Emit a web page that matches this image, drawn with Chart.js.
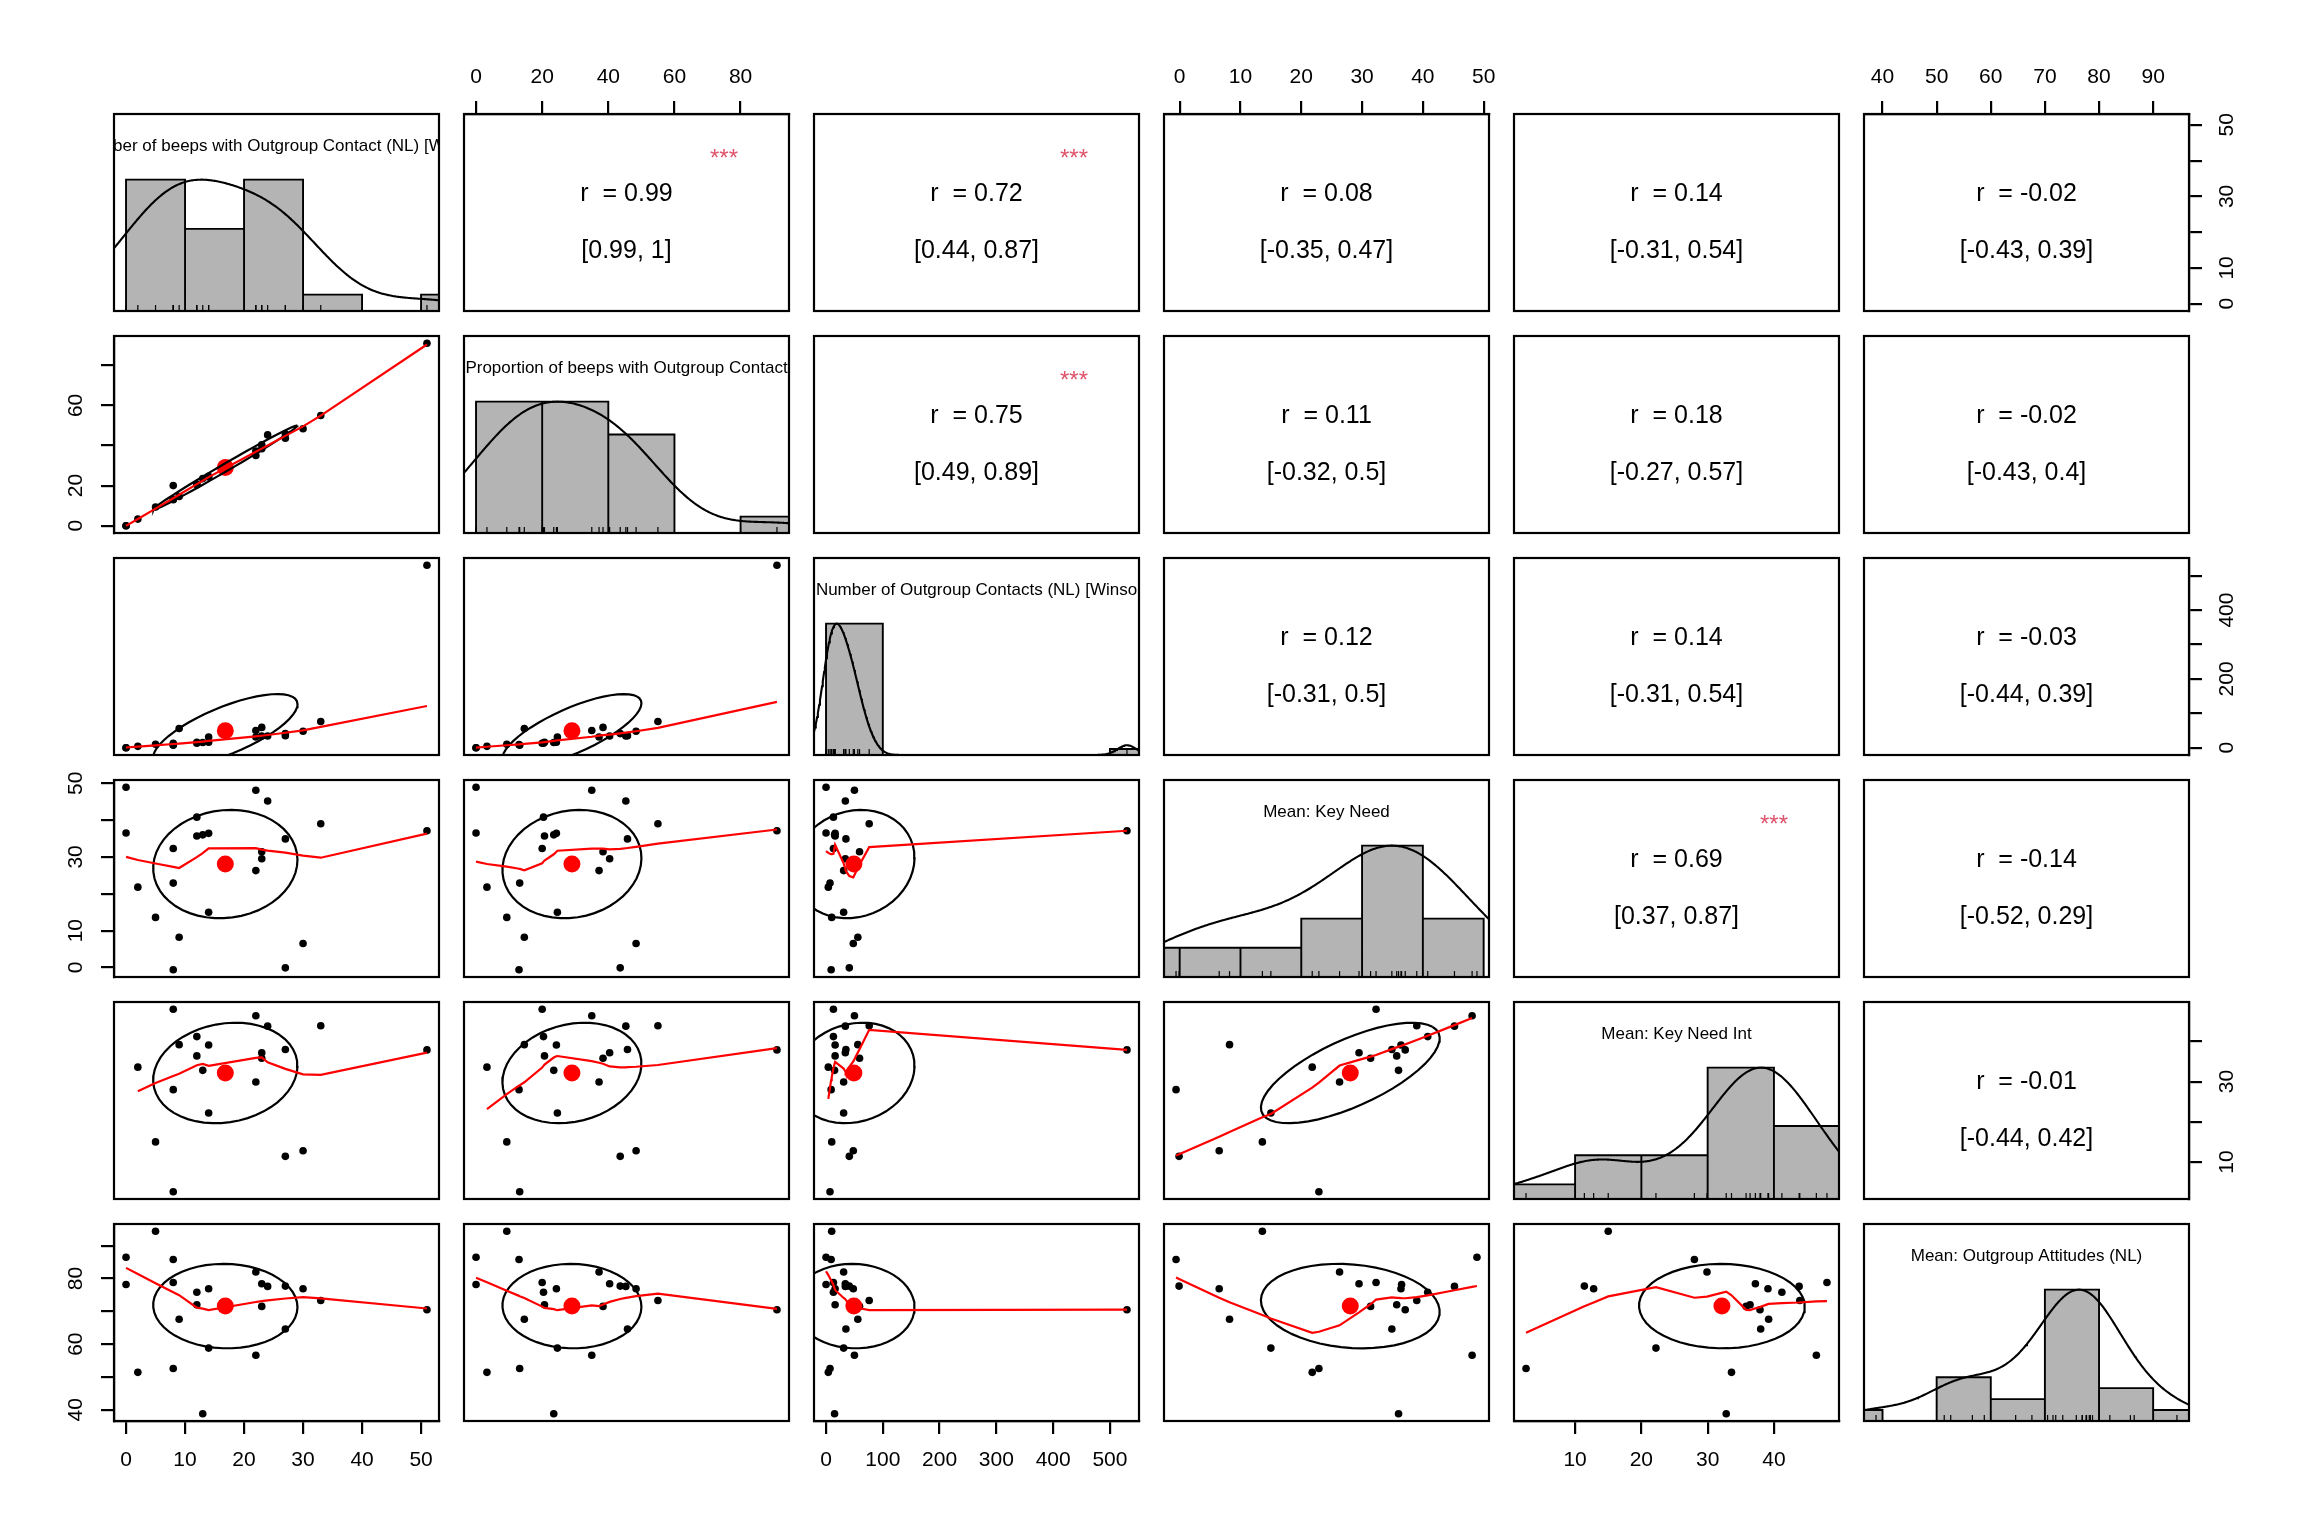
<!DOCTYPE html>
<html><head><meta charset="utf-8">
<script src="https://cdn.jsdelivr.net/npm/chart.js@4.4.1/dist/chart.umd.min.js"></script>
<style>
html,body{margin:0;padding:0;background:#fff;width:2304px;height:1536px;overflow:hidden}
#wrap{position:relative;width:2304px;height:1536px;background:#fff}
canvas{position:absolute}
</style></head><body><div id="wrap"></div>
<script>
// ---------------- data (23 participants) ----------------
const diagLabels = ["Number of beeps with Outgroup Contact (NL) [Winso", "Proportion of beeps with Outgroup Contact",
  "Number of Outgroup Contacts (NL) [Winso", "Mean: Key Need", "Mean: Key Need Int", "Mean: Outgroup Attitudes (NL)"];
const beepsContact   = [0,0,2,5,8,8,8,9,12,12,13,14,14,22,22,23,23,24,27,27,30,33,51];
const propContact    = [0,0,3.3,9.3,13.0,13.2,20.0,14.6,20.4,20.7,23.5,24.3,24.6,37.2,35.0,40.4,38.4,45.3,43.6,45.8,48.4,55.0,91.0];
const nContacts      = [0,0,4,10,9,7,13,56,13,16,15,16,31,31,50,34,59,34,41,35,48,76,530];
const keyNeed        = [48.9,36.5,21.8,13.6,-0.6,22.9,32.3,8.2,40.8,35.7,36.0,36.4,15.0,26.3,48.1,29.5,31.4,45.2,-0.1,34.9,6.5,39.0,37.1];
const keyNeedInt     = [null,null,33.6,15.0,28.0,2.6,48.0,39.2,41.2,36.4,32.8,39.1,22.2,29.9,46.4,37.2,35.8,43.8,11.4,38.0,12.8,43.9,37.9];
const attitudes      = [86.5,78.2,51.4,94.4,85.8,52.6,78.8,67.6,75.8,72.0,38.8,76.9,58.8,82.0,56.6,78.4,71.5,77.6,77.7,64.6,76.9,73.3,70.5];

// correlation texts of the upper panels (row-major over i<j)
const corrR     = ['0.99','0.72','0.08','0.14','-0.02','0.75','0.11','0.18','-0.02','0.12','0.14','-0.03','0.69','-0.14','-0.01'];
const corrCI    = ['[0.99, 1]','[0.44, 0.87]','[-0.35, 0.47]','[-0.31, 0.54]','[-0.43, 0.39]','[0.49, 0.89]','[-0.32, 0.5]','[-0.27, 0.57]','[-0.43, 0.4]','[-0.31, 0.5]','[-0.31, 0.54]','[-0.44, 0.39]','[0.37, 0.87]','[-0.52, 0.29]','[-0.44, 0.42]'];
const corrStars = ['***','***','','','','***','','','','','','','***','',''];

// axis ticks
const bottomTicks1 = [0,10,20,30,40,50];
const bottomTicks3 = [0,100,200,300,400,500];
const bottomTicks5 = [10,20,30,40];
const topTicks2 = [0,20,40,60,80];
const topTicks4 = [0,10,20,30,40,50];
const topTicks6 = [40,50,60,70,80,90];
const leftTicks2 = [0,20,40,60,80],       leftShown2 = [0,20,60];
const leftTicks4 = [0,10,20,30,40,50],    leftShown4 = [0,10,30,50];
const leftTicks6 = [40,50,60,70,80,90],   leftShown6 = [40,60,80];
const rightTicks1 = [0,10,20,30,40,50],   rightShown1 = [0,10,30,50];
const rightTicks3 = [0,100,200,300,400,500], rightShown3 = [0,200,400];
const rightTicks5 = [10,20,30,40],        rightShown5 = [10,30];

// ---------------- layout / style ----------------
const FONT = "'Liberation Sans', Arial, Helvetica, sans-serif";
const M = 70, PW = 325, PH = 197;
const colLeft = [114,464,814,1164,1514,1864];
const rowTop  = [114,336,558,780,1002,1224];
const LW = 2.2, TL = 13, TICK_SIZE = 21, LABEL_SIZE = 17, R_SIZE = 25, STAR_SIZE = 24;
const HIST_COL = '#B4B4B4', SMOOTH_COL = '#FF0000', STAR_COL = '#DF536B';
Chart.defaults.font.family = FONT;
Chart.defaults.color = '#000';

const vars = [beepsContact, propContact, nContacts, keyNeed, keyNeedInt, attitudes];

// ---------------- helpers ----------------
const ok = a => a.filter(v => v !== null && v !== undefined);
const mean = a => { a = ok(a); return a.reduce((s,v)=>s+v,0)/a.length; };
const sd = a => { a = ok(a); const m = mean(a); return Math.sqrt(a.reduce((s,v)=>s+(v-m)*(v-m),0)/(a.length-1)); };
function pearson(x, y) {
  const xs = [], ys = [];
  x.forEach((v,k)=>{ if (v!==null && y[k]!==null) { xs.push(v); ys.push(y[k]); } });
  const mx = mean(xs), my = mean(ys);
  let sxy=0, sxx=0, syy=0;
  xs.forEach((v,k)=>{ sxy+=(v-mx)*(ys[k]-my); sxx+=(v-mx)**2; syy+=(ys[k]-my)**2; });
  return sxy/Math.sqrt(sxx*syy);
}
function quantile7(a, p) { const s = a.slice().sort((u,v)=>u-v); const h = (s.length-1)*p; const lo = Math.floor(h); return s[lo] + (h-lo)*((s[Math.min(lo+1,s.length-1)]) - s[lo]); }
function prettyBreaks(lo, hi, n) {
  const cell = (hi - lo) / n;
  const U = Math.pow(10, Math.floor(Math.log10(cell)));
  let unit = U;
  if (2*U - cell < 1.5*(cell - unit)) { unit = 2*U;
    if (5*U - cell < 2.75*(cell - unit)) { unit = 5*U;
      if (10*U - cell < 1.5*(cell - unit)) unit = 10*U; } }
  const ns = Math.floor(lo/unit + 1e-7), nu = Math.ceil(hi/unit - 1e-7);
  const br = []; for (let k = ns; k <= nu; k++) br.push(k*unit);
  return br;
}
function histPath(vals) {
  const a = ok(vals);
  const k = Math.ceil(Math.log2(a.length) + 1);
  const br = prettyBreaks(Math.min(...a), Math.max(...a), k);
  const counts = [];
  for (let b = 0; b < br.length-1; b++)
    counts.push(a.filter(v => (v > br[b] && v <= br[b+1]) || (b===0 && v===br[0])).length);
  const mx = Math.max(...counts);
  const pts = [{x: br[0], y: 0}];
  counts.forEach((c,b) => { pts.push({x: br[b], y: c/mx}, {x: br[b+1], y: c/mx}, {x: br[b+1], y: 0}); });
  return pts;
}
function densityPath(vals) {
  const a = ok(vals), n = a.length;
  const h = Math.min(sd(a), (quantile7(a,.75)-quantile7(a,.25))/1.34);
  const bw = 1.06 * h * Math.pow(n, -0.2) * 1.2;
  const lo = Math.min(...a) - 3*bw, hi = Math.max(...a) + 3*bw;
  const pts = [];
  for (let g = 0; g < 512; g++) {
    const x = lo + (hi-lo)*g/511;
    let d = 0; a.forEach(v => { const z = (x-v)/bw; d += Math.exp(-0.5*z*z); });
    pts.push({x, y: d});
  }
  const mx = Math.max(...pts.map(p=>p.y));
  pts.forEach(p => p.y /= mx);
  return pts;
}
// R's lowess (clowess) port
function lowest(X, Y, n, xs, nleft, nright, W, userw, RW) {
  const range = X[n]-X[1];
  const h = Math.max(xs - X[nleft], X[nright] - xs);
  const h9 = .999*h, h1 = .001*h;
  let a = 0, j = nleft;
  while (j <= n) {
    W[j] = 0;
    const r = Math.abs(X[j]-xs);
    if (r <= h9) {
      W[j] = r <= h1 ? 1 : Math.pow(1 - Math.pow(r/h, 3), 3);
      if (userw) W[j] *= RW[j];
      a += W[j];
    } else if (X[j] > xs) break;
    j++;
  }
  const nrt = j-1;
  if (a <= 0) return null;
  for (j = nleft; j <= nrt; j++) W[j] /= a;
  if (h > 0) {
    a = 0;
    for (j = nleft; j <= nrt; j++) a += W[j]*X[j];
    let b = xs - a, c = 0;
    for (j = nleft; j <= nrt; j++) c += W[j]*(X[j]-a)*(X[j]-a);
    if (Math.sqrt(c) > .001*range) {
      b /= c;
      for (j = nleft; j <= nrt; j++) W[j] *= (b*(X[j]-a) + 1);
    }
  }
  let ys = 0;
  for (j = nleft; j <= nrt; j++) ys += W[j]*Y[j];
  return ys;
}
function lowess(xIn, yIn, f = 2/3, nsteps = 3) {
  const idx = xIn.map((v,i)=>i).sort((p,q)=>xIn[p]-xIn[q] || p-q);
  const n = idx.length;
  const X = [0], Y = [0];
  idx.forEach(i => { X.push(xIn[i]); Y.push(yIn[i]); });
  const delta = 0.01*(X[n]-X[1]);
  const YS = new Array(n+1).fill(0), RW = new Array(n+1).fill(0), W = new Array(n+1).fill(0);
  const ns = Math.max(2, Math.min(n, Math.floor(f*n + 1e-7)));
  let iter = 1;
  while (iter <= nsteps+1) {
    let nleft = 1, nright = ns, last = 0, i = 1;
    for (;;) {
      if (nright < n) {
        const d1 = X[i]-X[nleft], d2 = X[nright+1]-X[i];
        if (d1 > d2) { nleft++; nright++; continue; }
      }
      const v = lowest(X, Y, n, X[i], nleft, nright, W, iter > 1, RW);
      YS[i] = v === null ? Y[i] : v;
      if (last < i-1) {
        const denom = X[i]-X[last];
        for (let j = last+1; j < i; j++) { const al = (X[j]-X[last])/denom; YS[j] = al*YS[i] + (1-al)*YS[last]; }
      }
      last = i;
      const cut = X[last] + delta;
      for (i = last+1; i <= n; i++) {
        if (X[i] > cut) break;
        if (X[i] === X[last]) { YS[i] = YS[last]; last = i; }
      }
      i = Math.max(last+1, i-1);
      if (last >= n) break;
    }
    const res = []; for (let k = 1; k <= n; k++) res.push(Y[k]-YS[k]);
    const sc = res.reduce((s,r)=>s+Math.abs(r),0)/n;
    if (iter > nsteps) break;
    const ab = res.map(Math.abs), srt = ab.slice().sort((p,q)=>p-q);
    const m1 = Math.floor(n/2);
    const cmad = (n % 2 === 0) ? 3*(srt[m1]+srt[n-m1-1]) : 6*srt[m1];
    if (cmad < 1e-7*sc) break;
    const c9 = .999*cmad, c1 = .001*cmad;
    for (let k = 0; k < n; k++) { const r = ab[k]; RW[k+1] = r <= c1 ? 1 : (r <= c9 ? Math.pow(1-Math.pow(r/cmad,2),2) : 0); }
    iter++;
  }
  const out = []; for (let k = 1; k <= n; k++) out.push({x: X[k], y: YS[k]});
  return out;
}
function ellipsePath(xm, ym, xs, ys, r) {
  const seg = 51, t = (Math.abs(r) > 0 ? Math.sign(r) : 1)/Math.SQRT2;
  const a = Math.sqrt(1+r), b = Math.sqrt(1-r), pts = [];
  for (let k = 0; k <= seg; k++) {
    const ang = k*2*Math.PI/seg, c = Math.cos(ang), s = Math.sin(ang);
    pts.push({x: (c*a*t - s*b*t)*xs + xm, y: (c*a*t + s*b*t)*ys + ym});
  }
  return pts;
}
const mctx = document.createElement('canvas').getContext('2d');
function textW(s, size) { mctx.font = size + 'px ' + FONT; return mctx.measureText(s).width; }

const lo = vars.map(v => { const a = ok(v), mn = Math.min(...a), mx = Math.max(...a); return mn - 0.04*(mx-mn); });
const hi = vars.map(v => { const a = ok(v), mn = Math.min(...a), mx = Math.max(...a); return mx + 0.04*(mx-mn); });

function axisOpts(kind, pos, min, max, ticks, shown) {
  const base = {type: 'linear', min, max, position: pos || (kind === 'x' ? 'bottom' : 'left'), display: !!pos,
                grid: {display: false}, ticks: {display: false}};
  if (!pos) return base;
  const vertical = kind === 'y';
  let pad;
  if (!vertical) pad = pos === 'bottom' ? 14 : 11;
  else { const widest = Math.max(...shown.map(v => textW(String(v), TICK_SIZE))); pad = 38 - TL - widest/2; }
  return Object.assign(base, {
    afterBuildTicks: s => { s.ticks = ticks.map(v => ({value: v})); },
    afterFit: s => { if (vertical) s.width = M; else s.height = M; },
    grid: {display: true, drawOnChartArea: false, drawTicks: true, tickLength: TL, tickColor: '#000', tickWidth: LW, color: '#000', lineWidth: LW},
    border: {display: true, color: '#000', width: LW},
    ticks: {display: true, autoSkip: false, padding: pad, color: '#000', font: {size: TICK_SIZE, family: FONT},
            minRotation: vertical ? 90 : 0, maxRotation: vertical ? 90 : 0, crossAlign: vertical ? 'center' : 'near',
            callback: v => shown.includes(v) ? String(v) : ''}
  });
}

function axesFor(i, j) {
  let xPos = null, xT = null, xS = null, yPos = null, yT = null, yS = null;
  if (i === 5 && j === 0) { xPos = 'bottom'; xT = bottomTicks1; xS = bottomTicks1; }
  if (i === 5 && j === 2) { xPos = 'bottom'; xT = bottomTicks3; xS = bottomTicks3; }
  if (i === 5 && j === 4) { xPos = 'bottom'; xT = bottomTicks5; xS = bottomTicks5; }
  if (i === 0 && j === 1) { xPos = 'top'; xT = topTicks2; xS = topTicks2; }
  if (i === 0 && j === 3) { xPos = 'top'; xT = topTicks4; xS = topTicks4; }
  if (i === 0 && j === 5) { xPos = 'top'; xT = topTicks6; xS = topTicks6; }
  if (j === 0 && i === 1) { yPos = 'left'; yT = leftTicks2; yS = leftShown2; }
  if (j === 0 && i === 3) { yPos = 'left'; yT = leftTicks4; yS = leftShown4; }
  if (j === 0 && i === 5) { yPos = 'left'; yT = leftTicks6; yS = leftShown6; }
  if (j === 5 && i === 0) { yPos = 'right'; yT = rightTicks1; yS = rightShown1; }
  if (j === 5 && i === 2) { yPos = 'right'; yT = rightTicks3; yS = rightShown3; }
  if (j === 5 && i === 4) { yPos = 'right'; yT = rightTicks5; yS = rightShown5; }
  return {xPos, xT, xS, yPos, yT, yS};
}

function upperIndex(i, j) { let k = 0; for (let a = 0; a < 6; a++) for (let b = a+1; b < 6; b++) { if (a === i && b === j) return k; k++; } return -1; }

function panelPlugin(i, j) {
  return {
    id: 'panel' + i + '_' + j,
    afterDatasetsDraw(chart) {
      const {ctx, chartArea: ca} = chart;
      ctx.save();
      ctx.beginPath(); ctx.rect(ca.left, ca.top, ca.right-ca.left, ca.bottom-ca.top); ctx.clip();
      ctx.fillStyle = '#000'; ctx.textAlign = 'center'; ctx.textBaseline = 'middle';
      const cx = (ca.left + ca.right)/2, h = ca.bottom - ca.top, w = ca.right - ca.left;
      if (i === j) {
        ctx.font = LABEL_SIZE + 'px ' + FONT;
        ctx.fillText(diagLabels[i], cx, ca.top + 0.165*h);
      } else if (i < j) {
        const k = upperIndex(i, j);
        ctx.font = R_SIZE + 'px ' + FONT;
        ctx.fillText('r  = ' + corrR[k], cx, ca.top + 0.405*h);
        ctx.fillText(corrCI[k], cx, ca.top + 0.695*h);
        if (corrStars[k]) {
          ctx.font = STAR_SIZE + 'px ' + FONT; ctx.fillStyle = STAR_COL; ctx.textBaseline = 'alphabetic';
          ctx.fillText(corrStars[k], ca.left + 0.8*w, ca.top + 0.192*h + 0.58*STAR_SIZE);
        }
      }
      ctx.restore();
    },
    afterDraw(chart) {
      const {ctx, chartArea: ca} = chart;
      ctx.save(); ctx.strokeStyle = '#000'; ctx.lineWidth = LW;
      ctx.strokeRect(ca.left, ca.top, ca.right-ca.left, ca.bottom-ca.top);
      ctx.restore();
    }
  };
}

function datasetsFor(i, j) {
  if (i === j) {
    const v = vars[i];
    return [
      {type: 'line', data: histPath(v), borderColor: '#000', borderWidth: 1.9, backgroundColor: HIST_COL, fill: 'origin', pointRadius: 0, tension: 0, clip: 0, order: 3},
      {type: 'line', data: densityPath(v), borderColor: '#000', borderWidth: 2.1, fill: false, pointRadius: 0, tension: 0, clip: 0, order: 2},
      {type: 'scatter', data: ok(v).map(x => ({x, y: 0.0225})), pointStyle: 'line', rotation: 90, pointRadius: 2.95, borderColor: '#000', borderWidth: 1.2, order: 1}
    ];
  }
  if (i < j) return [];
  const xv = vars[j], yv = vars[i];
  const px = [], py = [];
  xv.forEach((x,k) => { if (x !== null && yv[k] !== null) { px.push(x); py.push(yv[k]); } });
  const xm = mean(xv), ym = mean(yv), r = pearson(xv, yv);
  return [
    {type: 'scatter', data: px.map((x,k) => ({x, y: py[k]})), pointRadius: 3.8, backgroundColor: '#000', borderWidth: 0, order: 4},
    {type: 'scatter', data: [{x: xm, y: ym}], pointRadius: 8.5, backgroundColor: SMOOTH_COL, borderWidth: 0, order: 3},
    {type: 'line', data: ellipsePath(xm, ym, sd(xv), sd(yv), r), borderColor: '#000', borderWidth: 2.2, fill: false, pointRadius: 0, tension: 0, clip: 0, order: 2},
    {type: 'line', data: lowess(px, py), borderColor: SMOOTH_COL, borderWidth: 2.2, fill: false, pointRadius: 0, tension: 0, clip: 0, order: 1}
  ];
}

const wrap = document.getElementById('wrap');
for (let i = 0; i < 6; i++) for (let j = 0; j < 6; j++) {
  const cv = document.createElement('canvas');
  cv.width = PW + 2*M; cv.height = PH + 2*M;
  cv.style.left = (colLeft[j] - M) + 'px'; cv.style.top = (rowTop[i] - M) + 'px';
  cv.style.width = cv.width + 'px'; cv.style.height = cv.height + 'px';
  wrap.appendChild(cv);
  const ax = axesFor(i, j);
  const yMin = i === j ? 0 : lo[i], yMax = i === j ? 1.5 : hi[i];
  new Chart(cv, {
    type: 'scatter',
    data: {datasets: datasetsFor(i, j)},
    options: {
      responsive: false, animation: false, devicePixelRatio: 1, events: [],
      layout: {autoPadding: false, padding: {left: ax.yPos === 'left' ? 0 : M, right: ax.yPos === 'right' ? 0 : M,
                                             top: ax.xPos === 'top' ? 0 : M, bottom: ax.xPos === 'bottom' ? 0 : M}},
      plugins: {legend: {display: false}, tooltip: {enabled: false}},
      scales: {
        x: axisOpts('x', ax.xPos, lo[j], hi[j], ax.xT, ax.xS),
        y: axisOpts('y', ax.yPos, yMin, yMax, ax.yT, ax.yS)
      }
    },
    plugins: [panelPlugin(i, j)]
  });
}
</script></body></html>
